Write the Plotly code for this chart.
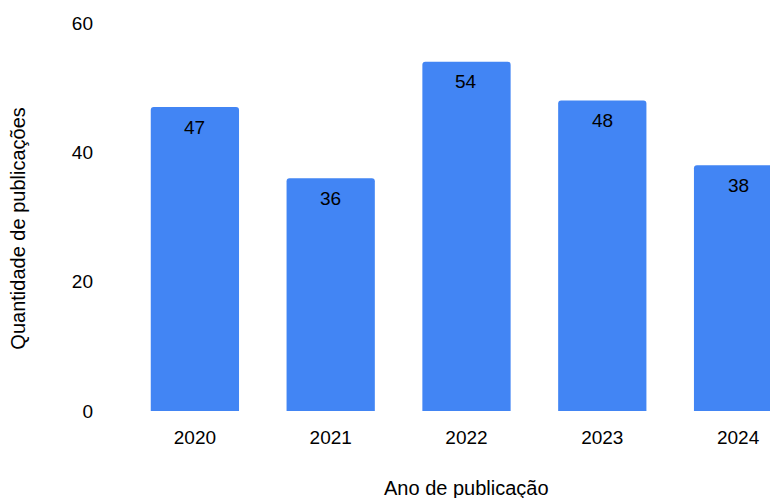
import plotly.graph_objects as go

anos = ["2020", "2021", "2022", "2023", "2024"]
publicacoes = [47, 36, 54, 48, 38]
y_ticks = [0, 20, 40, 60]

FONT = "Liberation Sans, Arial, sans-serif"

fig = go.Figure(
    go.Bar(
        x=anos,
        y=publicacoes,
        marker=dict(color="#4285F4", line=dict(width=0)),
        cliponaxis=True,
    )
)

# value labels just below the top of each bar (x given as category index)
value_labels = [
    dict(
        text=str(v),
        x=i, xref="x",
        y=v, yref="y",
        yshift=-20,
        yanchor="middle",
        xanchor="center",
        showarrow=False,
        font=dict(size=19, color="#000000", family=FONT),
    )
    for i, v in enumerate(publicacoes)
]

axis_titles = [
    dict(
        text="Ano de publicação",
        x=2, xref="x",
        y=0, yref="paper",
        yshift=-77,
        yanchor="middle",
        xanchor="center",
        showarrow=False,
        font=dict(size=20, family=FONT),
    ),
    dict(
        text="Quantidade de publicações",
        x=0, xref="paper",
        y=0.47, yref="paper",
        xshift=-109,
        xanchor="center",
        yanchor="middle",
        textangle=-90,
        showarrow=False,
        font=dict(size=20, family=FONT),
    ),
]

fig.update_layout(
    width=770,
    height=498,
    margin=dict(l=127, r=0, t=23, b=87),
    paper_bgcolor="white",
    plot_bgcolor="white",
    bargap=0.35,
    barcornerradius=3,
    showlegend=False,
    font=dict(family=FONT, size=19, color="#000000"),
    xaxis=dict(
        type="category",
        range=[-0.5, 4.235],
        showgrid=False,
        showline=False,
        zeroline=False,
        ticks="",
        ticklabelstandoff=13,
        automargin=False,
    ),
    yaxis=dict(
        range=[0, 60],
        tickvals=y_ticks,
        showgrid=False,
        showline=False,
        zeroline=False,
        ticks="",
        ticklabelstandoff=33,
        automargin=False,
    ),
    annotations=value_labels + axis_titles,
)

fig.write_html("out.html")
